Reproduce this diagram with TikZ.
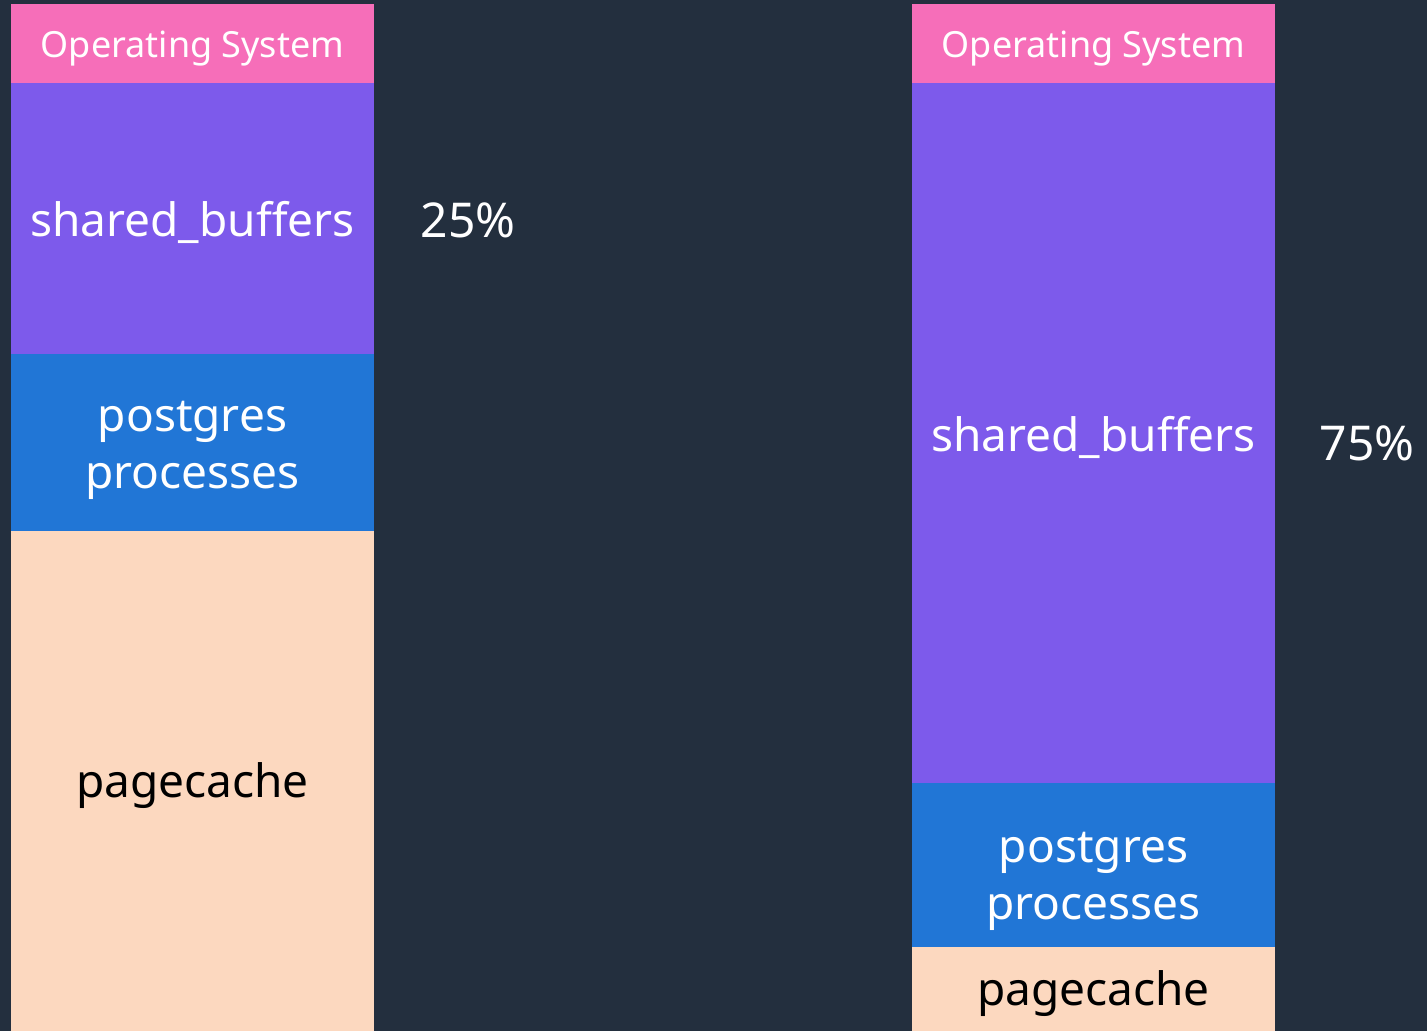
\documentclass[tikz,border=0pt]{standalone}
\usepackage{fontspec}
\setmainfont{Noto Sans}
\definecolor{bgnavy}{HTML}{232F3E}
\definecolor{ospink}{HTML}{F66EB9}
\definecolor{sbpurple}{HTML}{7D5AEB}
\definecolor{pgblue}{HTML}{2176D6}
\definecolor{pcpeach}{HTML}{FCD8BF}
\tikzset{
  band/.style={anchor=north west, inner sep=0pt, outer sep=0pt, minimum width=363pt},
  ostext/.style={font=\fontsize{36}{40}\selectfont, text=white, yshift=-5pt},
  bigtext/.style={font=\fontsize{46}{57}\selectfont, text=white, align=center, yshift=-4pt},
  twoline/.style={bigtext, yshift=-4pt},
  darktext/.style={font=\fontsize{46}{57}\selectfont, text=black, yshift=-5pt},
  pcttext/.style={font=\fontsize{48}{57}\selectfont, text=white},
}
\begin{document}
\begin{tikzpicture}[x=1pt,y=-1pt]
  % canvas
  \fill[bgnavy] (0,0) rectangle (1427,1031);
  \useasboundingbox (0,0) rectangle (1427,1031);

  % left column: 25% shared_buffers
  \node[band, fill=ospink,   minimum height=79pt]  (los) at (11,4)   {};
  \node[band, fill=sbpurple, minimum height=271pt] (lsb) at (11,83)  {};
  \node[band, fill=pgblue,   minimum height=177pt] (lpg) at (11,354) {};
  \node[band, fill=pcpeach,  minimum height=500pt] (lpc) at (11,531) {};
  \node[ostext]   at (los.center) {Operating System};
  \node[bigtext]  at (lsb.center) {shared\_buffers};
  \node[twoline]  at (lpg.center) {postgres\\processes};
  \node[darktext] at (lpc.center) {pagecache};
  \node[pcttext] (lpct) at (468,220) {25\%};

  % right column: 75% shared_buffers
  \node[band, fill=ospink,   minimum height=79pt]  (ros) at (912,4)   {};
  \node[band, fill=sbpurple, minimum height=700pt] (rsb) at (912,83)  {};
  \node[band, fill=pgblue,   minimum height=164pt] (rpg) at (912,783) {};
  \node[band, fill=pcpeach,  minimum height=84pt]  (rpc) at (912,947) {};
  \node[ostext]   at (ros.center) {Operating System};
  \node[bigtext]  at (rsb.center) {shared\_buffers};
  \node[twoline, yshift=-8pt] at (rpg.center) {postgres\\processes};
  \node[darktext] at (rpc.center) {pagecache};
  \node[pcttext] (rpct) at (1367,443) {75\%};
\end{tikzpicture}
\end{document}
